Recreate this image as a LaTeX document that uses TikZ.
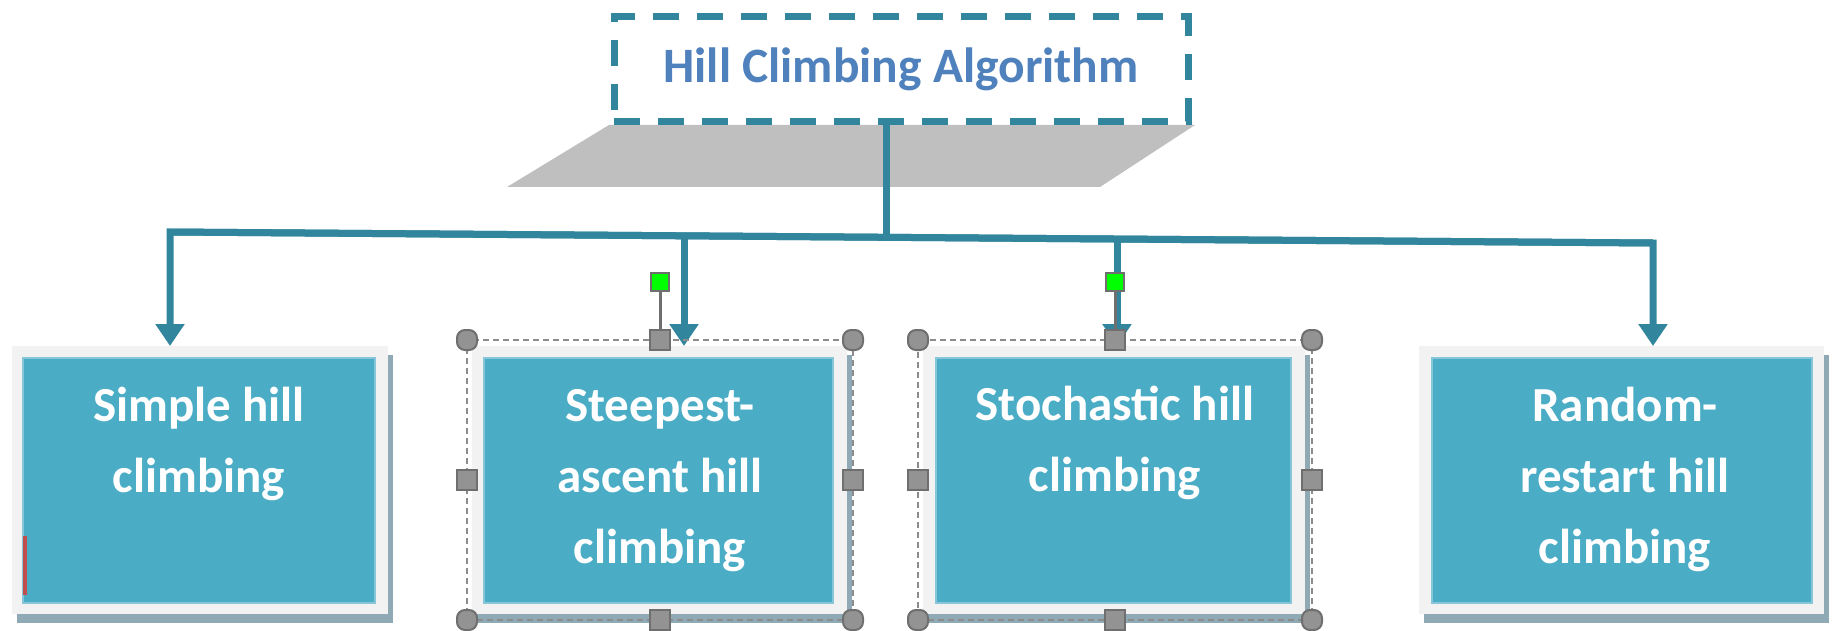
\documentclass[tikz,border=0pt]{standalone}
\usepackage{fontspec}
\setmainfont{Carlito}
\usetikzlibrary{arrows.meta,shadows}
\definecolor{conncol}{HTML}{31859C}
\definecolor{cardblue}{HTML}{4BACC6}
\definecolor{cardedge}{HTML}{86C6D8}
\definecolor{frameg}{HTML}{F2F2F2}
\definecolor{shadowc}{HTML}{8FAAB5}
\definecolor{platec}{HTML}{BFBFBF}
\definecolor{titlec}{HTML}{4F81BD}
\definecolor{handlefill}{HTML}{939393}
\definecolor{handleedge}{HTML}{6F6F6F}
\definecolor{selcol}{HTML}{8C8C8C}
\definecolor{greenh}{HTML}{00FF00}
\definecolor{redmark}{HTML}{C0504D}
\begin{document}
\begin{tikzpicture}[x=1pt,y=-1pt,
  frame/.style={fill=frameg, inner sep=0pt, outer sep=0pt,
    general shadow={fill=shadowc, shadow xshift=5pt, shadow yshift=-9pt}},
  card/.style={fill=cardblue, draw=cardedge, line width=1.5pt, inner sep=0pt, outer sep=0pt, minimum height=245pt},
  lbl/.style={text=white, font=\bfseries\fontsize{49}{71}\selectfont, align=center, inner sep=0pt, anchor=base},
  conn/.style={draw=conncol, line width=7pt},
  tip/.style={-{Triangle[width=28pt,length=22pt]}},
  selframe/.style={draw=selcol, dash pattern=on 6pt off 4pt, line width=2.5pt, inner sep=0pt, outer sep=0pt},
  handle/.style={fill=handlefill, draw=handleedge, line width=2pt, minimum size=20pt, inner sep=0pt},
  chandle/.style={handle, rounded corners=8pt},
  ghandle/.style={fill=greenh, draw=handleedge, line width=2pt, minimum size=18pt, inner sep=0pt},
  hline/.style={draw=handleedge, line width=3pt},
  titlebox/.style={draw=conncol, line width=7pt, dash pattern=on 26pt off 18pt, inner sep=0pt,
    minimum width=574pt, minimum height=105pt, text=titlec, font=\bfseries\fontsize{49.5}{58}\selectfont}
]
\useasboundingbox (0,0) rectangle (1833,631);

% title with its grey plate
\fill[platec] (609,125) -- (1195,125) -- (1100,187) -- (507,187) -- cycle;
\node[titlebox] (title) at (901,69.5) {Hill Climbing Algorithm};

% boxes
\node[frame, minimum width=376pt, minimum height=268pt] (f1) at (200,480) {};
\node[frame, minimum width=375pt, minimum height=268pt] (f2) at (659.5,480) {};
\node[frame, minimum width=382pt, minimum height=268pt] (f3) at (1114,480) {};
\node[frame, minimum width=405pt, minimum height=268pt] (f4) at (1621.5,480) {};

\node[card, minimum width=352pt] (c1) at (199,480.5) {};
\node[card, minimum width=349pt] (c2) at (658.5,480.5) {};
\node[card, minimum width=355pt] (c3) at (1113.5,480.5) {};
\node[card, minimum width=380pt] (c4) at (1622,480.5) {};

% anchor=base is the baseline of the last line
\node[lbl] (t1) at (199,492) {Simple hill\\climbing};
\node[lbl] (t2) at (660,563) {Steepest-\\ascent hill\\climbing};
\node[lbl] (t3) at (1115,491) {Stochastic hill\\climbing};
\node[lbl] (t4) at (1625,563) {Random-\\restart hill\\climbing};

\fill[redmark] (23,536) rectangle (26.5,595);

% connectors
\coordinate (jt) at (886,237.3);
\coordinate (hL) at (170,232);
\coordinate (hR) at (1653,243);
\coordinate (a2) at (684,235.8);
\coordinate (a3) at (1117,239);
\draw[conn] (title.south -| jt) -- (jt);
\draw[conn, tip] (hR) -- (hL) -- (hL |- f1.north);
\draw[conn, tip] (hL) -- (hR) -- (hR |- f4.north);
\draw[conn, tip] (a2) -- (a2 |- f2.north);
\draw[conn, tip] (a3) -- (a3 |- f3.north);

% selection frames and handles
\node[selframe, minimum width=386pt, minimum height=280pt] (s2) at (660,480) {};
\node[selframe, minimum width=394pt, minimum height=280pt] (s3) at (1115,480) {};
\node[ghandle] (g2) at (660,282) {};
\node[ghandle] (g3) at (1115,282) {};
\draw[hline] (g2) -- (s2.north);
\draw[hline] (g3) -- (s3.north);
\foreach \s in {s2,s3}{
  \node[chandle] at (\s.north west) {};
  \node[chandle] at (\s.north east) {};
  \node[chandle] at (\s.south west) {};
  \node[chandle] at (\s.south east) {};
  \node[handle] at (\s.north) {};
  \node[handle] at (\s.south) {};
  \node[handle] at (\s.west) {};
  \node[handle] at (\s.east) {};
}
\node[ghandle] at (g2) {};
\node[ghandle] at (g3) {};
\end{tikzpicture}
\end{document}
